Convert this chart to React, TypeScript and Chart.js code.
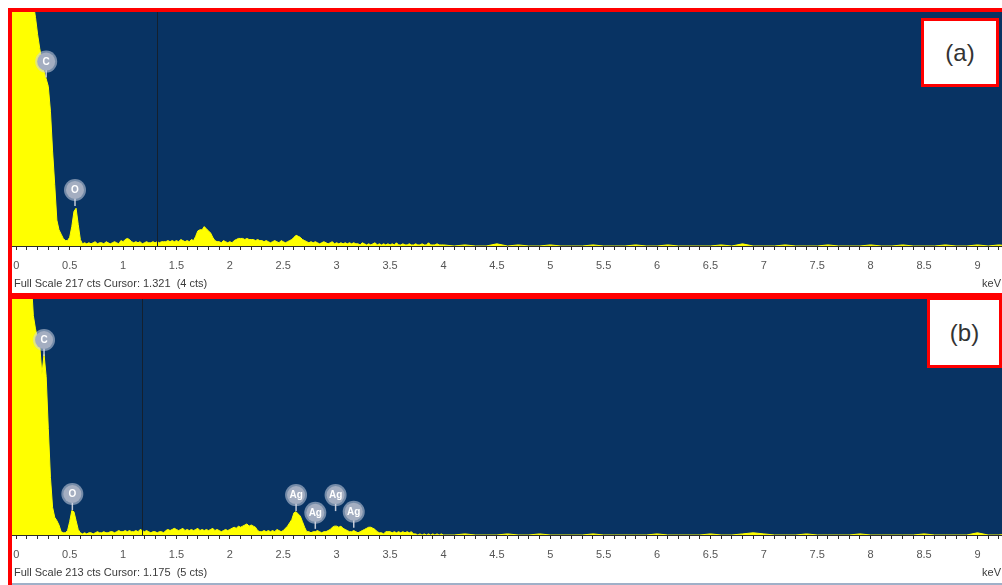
import React, { useEffect, useRef } from 'react';
import { Chart, registerables } from 'chart.js';
Chart.register(...registerables);

// Energy channels: low region -0.04..4.00 keV every 0.02 keV, high region 4.1..9.3 keV every 0.1 keV
const LOW_START = -0.04;
const LOW_STEP = 0.02;
const HIGH_START = 4.1;
const HIGH_STEP = 0.1;

const X_MIN = -0.04;
const X_MAX = 9.23;

const majorTickLabels = ['0', '0.5', '1', '1.5', '2', '2.5', '3', '3.5', '4', '4.5', '5', '5.5', '6', '6.5', '7', '7.5', '8', '8.5', '9'];

// Panel (a)
const countsLowA = [
  230, 230,
  230, 230, 230, 230, 230,
  230, 230, 230, 225, 212,
  196, 183, 172, 162, 155,
  148, 125, 88, 57, 24,
  15, 11, 7, 5, 5,
  8, 18, 32, 35, 20,
  6, 2, 3, 2, 3,
  2, 3, 4, 2, 3,
  3, 2, 4, 3, 2,
  3, 4, 3, 2, 5,
  4, 6, 7, 6, 4,
  3, 4, 3, 4, 2,
  3, 4, 3, 3, 4,
  3, 4, 3, 4, 4,
  4, 5, 4, 5, 4,
  5, 4, 6, 5, 4,
  5, 4, 6, 5, 9,
  14, 15, 15, 18, 16,
  14, 12, 8, 5, 4,
  4, 3, 5, 4, 3,
  4, 3, 5, 6, 7,
  7, 7, 6, 7, 6,
  6, 6, 5, 6, 5,
  5, 4, 5, 4, 3,
  4, 5, 4, 3, 5,
  4, 3, 4, 5, 6,
  8, 10, 9, 8, 6,
  5, 4, 3, 4, 3,
  4, 3, 2, 3, 4,
  3, 2, 3, 4, 2,
  3, 2, 3, 2, 3,
  2, 3, 2, 3, 2,
  2, 1, 3, 2, 1,
  2, 1, 2, 3, 1,
  2, 1, 2, 1, 2,
  1, 2, 1, 3, 1,
  1, 2, 1, 1, 2,
  1, 1, 2, 1, 1,
  2, 1, 1, 3, 1,
  1, 1, 2, 1, 1,
  1,
];
const countsHighA = [
  0, 1, 0, 0, 2, 0, 1, 0, 0, 1,
  0, 0, 0, 1, 0, 0, 0, 1, 0, 0,
  1, 0, 0, 0, 0, 1, 0, 2, 0, 0,
  0, 1, 0, 0, 0, 1, 0, 0, 0, 1,
  0, 0, 1, 0, 0, 0, 1, 0, 0, 1,
  0, 1, 0,
];
const fullScaleA = 217;
const cursorA = 1.321;
const cursorCtsA = 4;
const peakNamesA = ['C', 'O'];
const peakKevA = [0.28, 0.55];
const peakCtsA = [171, 52];

// Panel (b)
const countsLowB = [
  230, 230,
  230, 230, 230, 230, 230,
  230, 230, 230, 198, 186,
  177, 171, 145, 163, 143,
  96, 52, 25, 16, 13,
  9, 3, 2, 2, 4,
  12, 22, 21, 13, 5,
  2, 1, 2, 1, 2,
  2, 1, 2, 3, 2,
  2, 3, 2, 2, 3,
  3, 2, 3, 4, 3,
  3, 4, 3, 4, 3,
  3, 4, 3, 5, 4,
  3, 4, 3, 2, 3,
  3, 2, 3, 3, 2,
  4, 5, 4, 5, 6,
  5, 4, 5, 6, 4,
  5, 4, 5, 4, 5,
  6, 4, 5, 4, 5,
  4, 5, 6, 4, 5,
  4, 3, 4, 5, 4,
  5, 6, 7, 6, 8,
  7, 8, 9, 10, 8,
  9, 8, 7, 4, 3,
  3, 4, 3, 4, 3,
  4, 3, 5, 4, 3,
  4, 6, 8, 11, 14,
  20, 21, 19, 17, 12,
  7, 3, 3, 2, 3,
  3, 4, 3, 2, 3,
  3, 4, 5, 7, 8,
  8, 7, 8, 6, 5,
  4, 3, 3, 4, 3,
  2, 3, 4, 5, 6,
  7, 7, 6, 5, 3,
  2, 2, 1, 3, 3,
  3, 2, 3, 2, 3,
  2, 3, 2, 3, 2,
  3, 1, 1, 0, 1,
  0, 1, 0, 1, 0,
  1, 0, 1, 0, 1,
  0,
];
const countsHighB = [
  0, 1, 0, 0, 0, 1, 0, 0, 1, 0,
  0, 0, 0, 1, 0, 0, 0, 0, 0, 1,
  0, 0, 0, 0, 1, 0, 0, 1, 2, 1,
  0, 0, 0, 1, 0, 0, 0, 0, 1, 0,
  0, 0, 0, 0, 1, 0, 0, 0, 0, 2,
  0, 0, 1,
];
const fullScaleB = 213;
const cursorB = 1.175;
const cursorCtsB = 5;
const peakNamesB = ['C', 'O', 'Ag', 'Ag', 'Ag', 'Ag'];
const peakKevB = [0.26, 0.525, 2.62, 2.8, 2.99, 3.16];
const peakCtsB = [176, 37, 36, 20, 36, 21];

const NAVY = '#083363';
const YELLOW = '#ffff00';
const RED = '#ff0000';
const FONT = "'Liberation Sans', Arial, sans-serif";

function toPoints(low: number[], high: number[]) {
  const pts: { x: number; y: number }[] = [];
  low.forEach((c, i) => pts.push({ x: +(LOW_START + i * LOW_STEP).toFixed(2), y: c }));
  high.forEach((c, i) => pts.push({ x: +(HIGH_START + i * HIGH_STEP).toFixed(2), y: c }));
  return pts;
}

const majorValues = majorTickLabels.map((s) => parseFloat(s));
const tickValues: number[] = [];
for (let i = 0; i <= 92; i++) tickValues.push(+(i / 10).toFixed(1));

type PanelProps = {
  low: number[];
  high: number[];
  fullScale: number;
  cursor: number;
  cursorCts: number;
  names: string[];
  kev: number[];
  cts: number[];
  width: number;
  height: number;
  plotHeight: number;
};

function Panel(p: PanelProps) {
  const ref = useRef<HTMLCanvasElement | null>(null);
  useEffect(() => {
    if (!ref.current) return;
    const axisH = p.height - p.plotHeight;
    const bgPlugin = {
      id: 'bg',
      beforeDraw(chart: any) {
        const { ctx, chartArea } = chart;
        ctx.save();
        ctx.fillStyle = '#ffffff';
        ctx.fillRect(0, 0, chart.width, chart.height);
        ctx.fillStyle = NAVY;
        ctx.fillRect(chartArea.left, chartArea.top, chartArea.right - chartArea.left, chartArea.bottom - chartArea.top);
        ctx.restore();
      },
    };
    const overlayPlugin = {
      id: 'overlay',
      afterDatasetsDraw(chart: any) {
        const { ctx, chartArea, scales } = chart;
        const xs = scales.x;
        const ys = scales.y;
        ctx.save();
        ctx.beginPath();
        ctx.rect(chartArea.left, chartArea.top, chartArea.right - chartArea.left, chartArea.bottom - chartArea.top);
        ctx.clip();
        // cursor
        const cx = Math.round(xs.getPixelForValue(p.cursor)) + 0.5;
        ctx.strokeStyle = '#14202e';
        ctx.lineWidth = 1;
        ctx.beginPath();
        ctx.moveTo(cx, chartArea.top);
        ctx.lineTo(cx, chartArea.bottom);
        ctx.stroke();
        // peak labels
        p.names.forEach((n, i) => {
          const px = xs.getPixelForValue(p.kev[i]);
          const py = ys.getPixelForValue(p.cts[i]);
          ctx.strokeStyle = '#c3cad8';
          ctx.lineWidth = 1.5;
          ctx.beginPath();
          ctx.moveTo(px, py + 8);
          ctx.lineTo(px, py + 16);
          ctx.stroke();
          ctx.fillStyle = 'rgba(205,212,226,0.55)';
          ctx.beginPath();
          ctx.arc(px, py, 11, 0, Math.PI * 2);
          ctx.fill();
          ctx.fillStyle = '#a4aec1';
          ctx.beginPath();
          ctx.arc(px, py, 9, 0, Math.PI * 2);
          ctx.fill();
          ctx.fillStyle = '#ffffff';
          ctx.font = `bold 10px ${FONT}`;
          ctx.textAlign = 'center';
          ctx.textBaseline = 'middle';
          ctx.fillText(n, px, py + 0.5);
        });
        ctx.restore();
      },
      afterDraw(chart: any) {
        const { ctx, chartArea } = chart;
        ctx.save();
        ctx.fillStyle = '#3a3a3a';
        ctx.font = `11px ${FONT}`;
        ctx.textBaseline = 'middle';
        ctx.textAlign = 'left';
        const y = chartArea.bottom + 38;
        ctx.fillText(`Full Scale ${p.fullScale} cts Cursor: ${p.cursor.toFixed(3)}  (${p.cursorCts} cts)`, 2, y);
        ctx.textAlign = 'right';
        ctx.fillText('keV', chart.width - 1, y);
        ctx.restore();
      },
    };
    const chart = new Chart(ref.current, {
      type: 'line',
      data: {
        datasets: [
          {
            data: toPoints(p.low, p.high),
            borderColor: YELLOW,
            backgroundColor: YELLOW,
            borderWidth: 1,
            pointRadius: 0,
            fill: 'origin',
            tension: 0,
          },
        ],
      },
      options: {
        animation: false,
        responsive: false,
        maintainAspectRatio: false,
        events: [],
        layout: { padding: 0, autoPadding: false },
        plugins: { legend: { display: false }, tooltip: { enabled: false } },
        scales: {
          x: {
            type: 'linear',
            min: X_MIN,
            max: X_MAX,
            afterBuildTicks: (s: any) => {
              s.ticks = tickValues.map((v) => ({ value: v }));
            },
            afterFit: (s: any) => {
              s.height = axisH;
              s.paddingLeft = 0;
              s.paddingRight = 0;
              s.paddingTop = 0;
              s.paddingBottom = 0;
            },
            grid: { drawOnChartArea: false, drawTicks: true, tickLength: 4, tickColor: '#2c2c2c', tickWidth: 1 },
            border: { display: true, color: '#2c2c2c', width: 1 },
            ticks: {
              autoSkip: false,
              maxRotation: 0,
              minRotation: 0,
              padding: 9,
              color: '#555555',
              font: { family: FONT, size: 11 },
              callback: (v: any) => {
                const idx = majorValues.findIndex((m) => Math.abs(m - v) < 1e-6);
                return idx >= 0 ? majorTickLabels[idx] : '';
              },
            },
          },
          y: { display: false, min: 0, max: p.fullScale },
        },
      } as any,
      plugins: [bgPlugin, overlayPlugin],
    });
    return () => chart.destroy();
  }, []);
  return <canvas ref={ref} width={p.width} height={p.height} style={{ display: 'block', width: p.width, height: p.height }} />;
}

const labelBox = (text: string, left: number, top: number, w: number, h: number) => (
  <div
    style={{
      position: 'absolute',
      left,
      top,
      width: w,
      height: h,
      boxSizing: 'border-box',
      border: `3px solid ${RED}`,
      background: '#ffffff',
      display: 'flex',
      alignItems: 'center',
      justifyContent: 'center',
      fontFamily: FONT,
      fontSize: 24,
      color: '#333333',
    }}
  >
    {text}
  </div>
);

export default function App() {
  return (
    <div style={{ position: 'absolute', left: 0, top: 0, width: 1002, height: 585, overflow: 'hidden', background: '#ffffff' }}>
      {/* panel a */}
      <div
        style={{
          position: 'absolute',
          left: 8,
          top: 8,
          width: 1010,
          height: 289,
          boxSizing: 'border-box',
          borderTop: `4px solid ${RED}`,
          borderLeft: `4px solid ${RED}`,
          borderBottom: `4px solid ${RED}`,
        }}
      >
        <Panel
          low={countsLowA}
          high={countsHighA}
          fullScale={fullScaleA}
          cursor={cursorA}
          cursorCts={cursorCtsA}
          names={peakNamesA}
          kev={peakKevA}
          cts={peakCtsA}
          width={990}
          height={281}
          plotHeight={234}
        />
      </div>
      {/* panel b */}
      <div
        style={{
          position: 'absolute',
          left: 8,
          top: 296,
          width: 1010,
          height: 289,
          boxSizing: 'border-box',
          borderTop: `3px solid ${RED}`,
          borderLeft: `4px solid ${RED}`,
        }}
      >
        <Panel
          low={countsLowB}
          high={countsHighB}
          fullScale={fullScaleB}
          cursor={cursorB}
          cursorCts={cursorCtsB}
          names={peakNamesB}
          kev={peakKevB}
          cts={peakCtsB}
          width={990}
          height={284}
          plotHeight={236}
        />
        <div style={{ position: 'absolute', left: 0, top: 284, width: 1010, height: 2, background: '#9fb0c8' }} />
      </div>
      {labelBox('(a)', 921, 18, 78, 69)}
      {labelBox('(b)', 927, 297, 75, 71)}
    </div>
  );
}
